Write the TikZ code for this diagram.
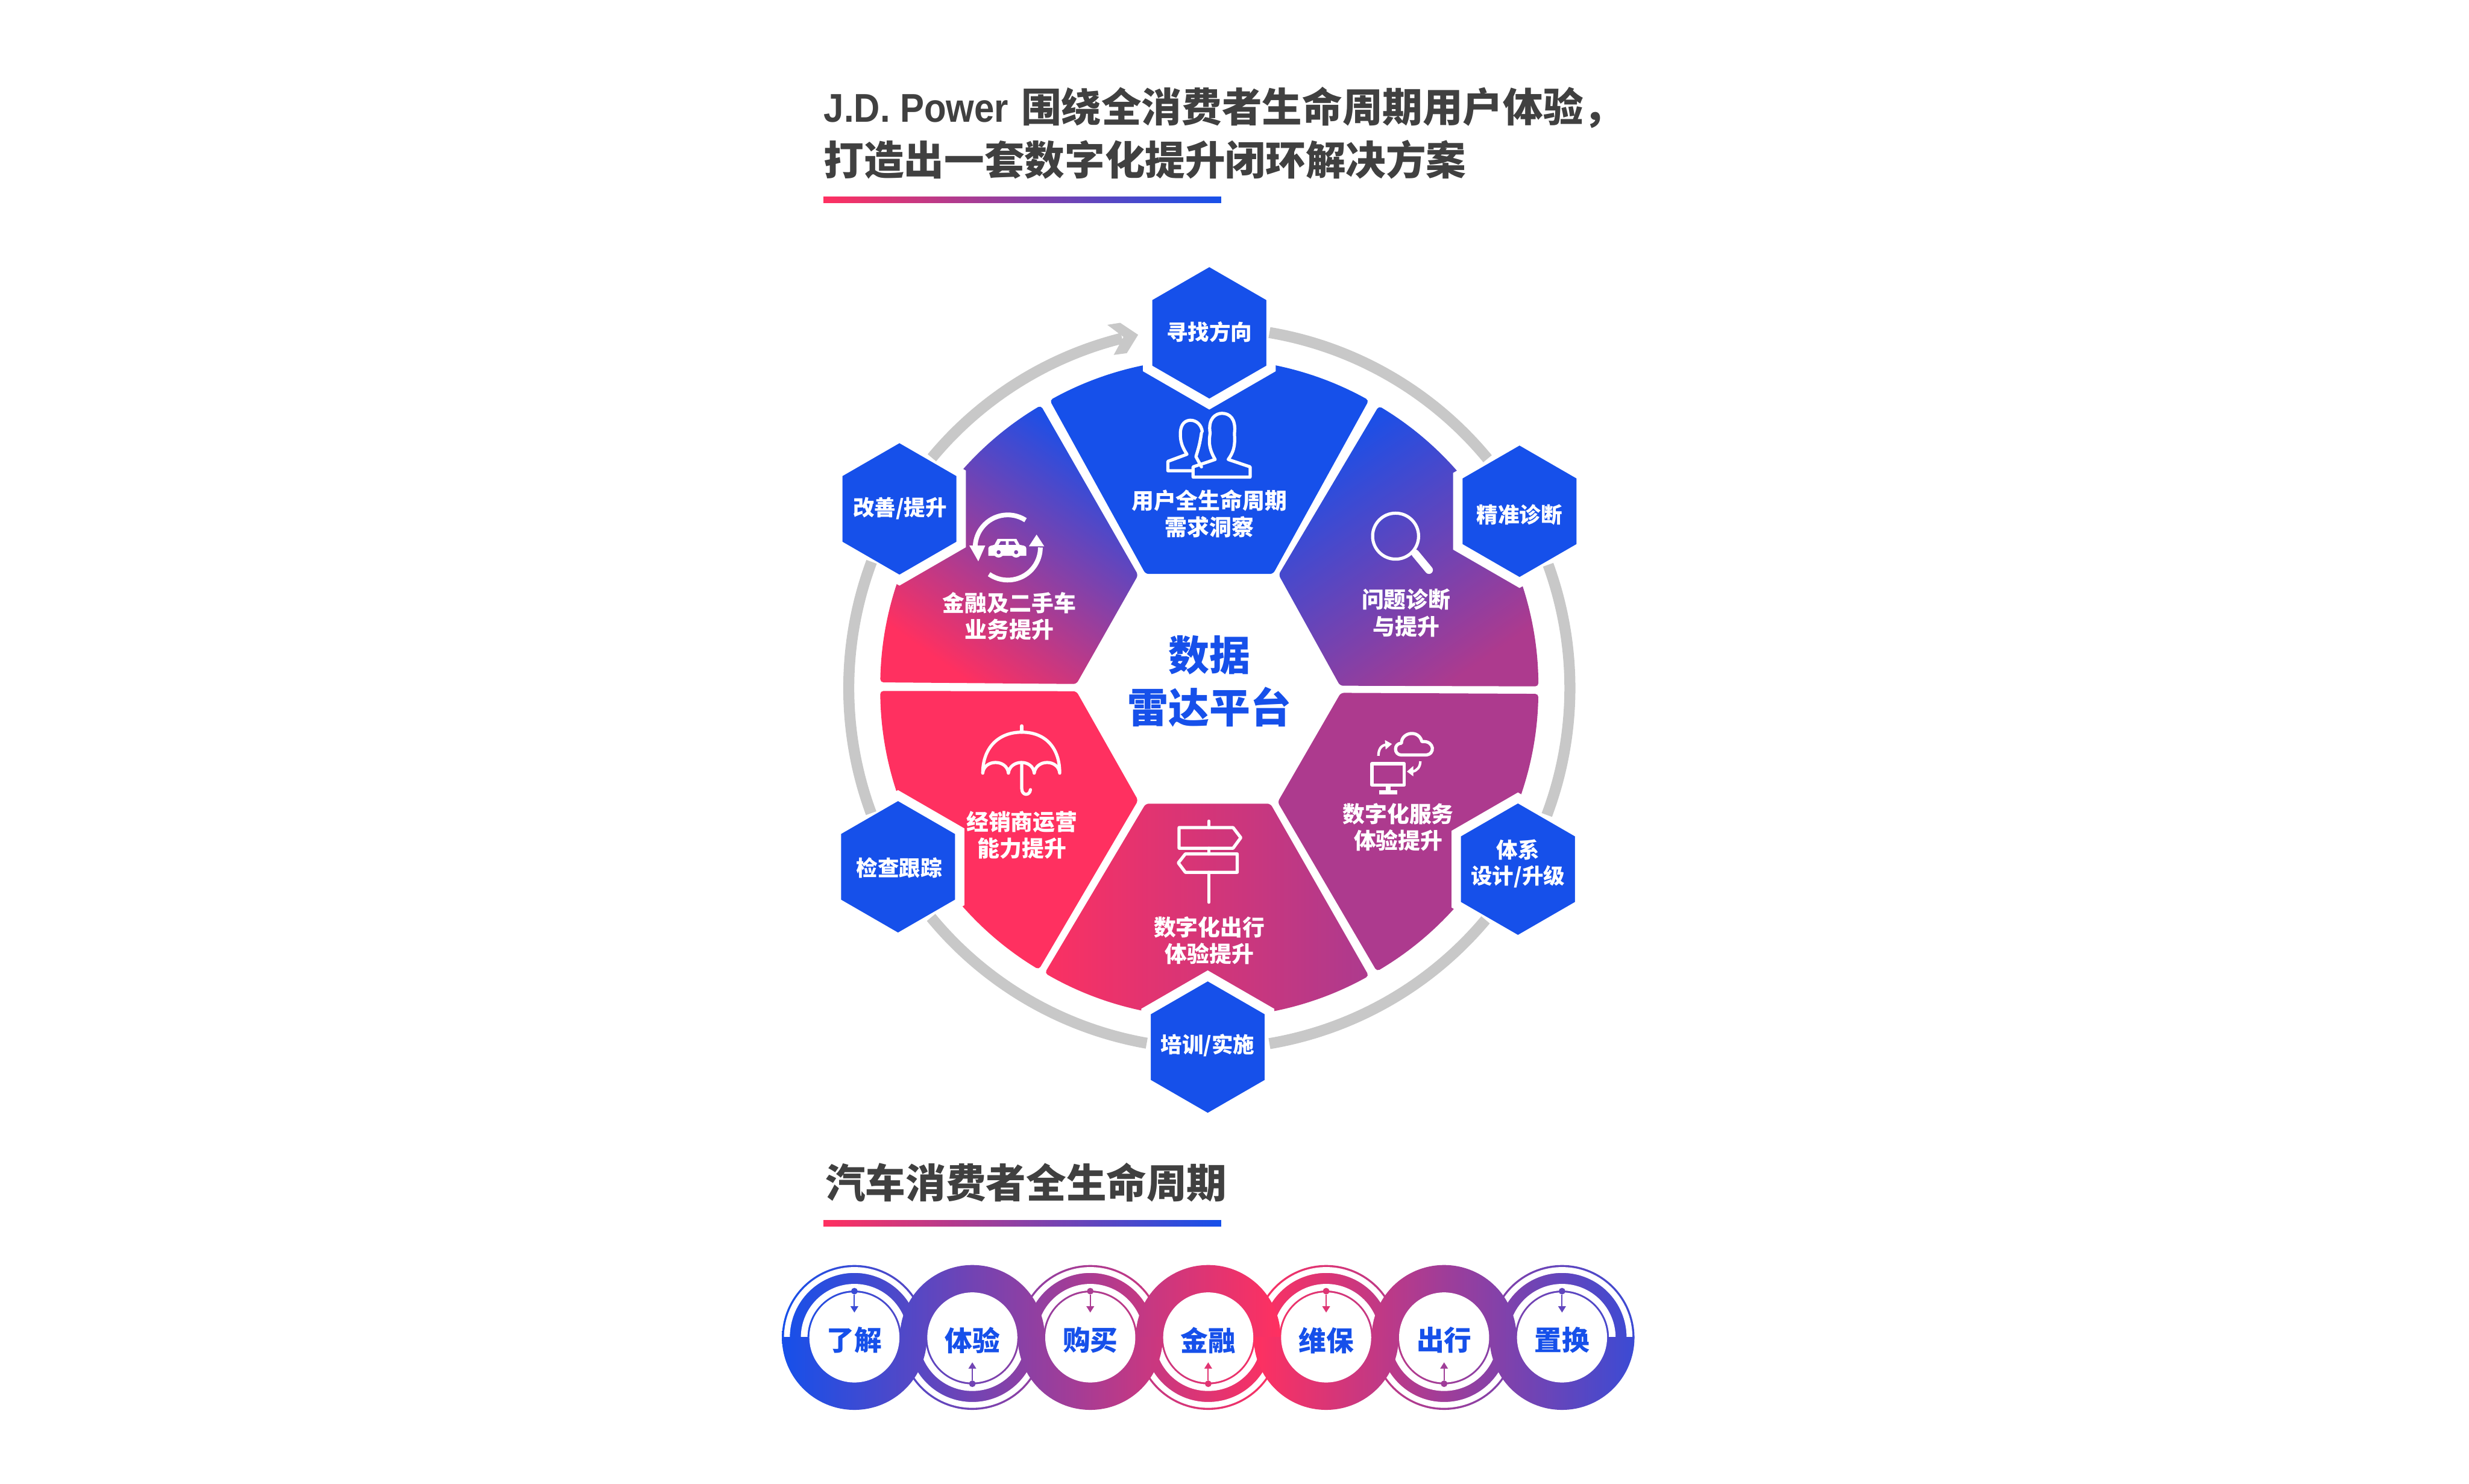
\documentclass[tikz,border=0pt]{standalone}
\usepackage{fontspec}
\setmainfont{Noto Sans CJK SC}
\newfontfamily\latinhead[FakeStretch=0.9]{Liberation Sans}
\usetikzlibrary{shapes.geometric,arrows.meta}

\definecolor{blueb}{HTML}{1650EA}
\definecolor{pinkb}{HTML}{FF3060}
\definecolor{purpleb}{HTML}{AD3A8E}
\definecolor{grayb}{HTML}{C8C8C8}
\definecolor{darkb}{HTML}{404040}

\tikzstyle{hextext}=[text=white, align=center, font=\fontsize{13.6}{16.6}\selectfont\bfseries]
\tikzstyle{hexa}=[draw=white, fill=blueb, regular polygon, regular polygon sides=6, regular polygon rotate=30, minimum size=90.5pt, inner sep=0pt, line width=6pt]
\tikzstyle{wedgetext}=[text=white, align=center, font=\fontsize{14.1}{17}\selectfont\bfseries]
\tikzstyle{headtext}=[text=darkb, anchor=west, align=left, inner sep=0pt, font=\fontsize{25.5}{33.8}\selectfont\bfseries]
\tikzstyle{centertext}=[text=blueb, align=center, font=\fontsize{26}{33}\selectfont\bfseries]
\tikzstyle{ringtext}=[text=blueb, font=\fontsize{17.5}{20}\selectfont\bfseries]
\tikzstyle{ringdot}=[circle, minimum size=4.2pt, inner sep=0pt]
\tikzstyle{ringarrow}=[line width=0.8pt, -{Triangle[length=4pt,width=4.8pt]}]
\tikzstyle{grayarc}=[draw=grayb, line width=7pt]
\tikzstyle{icon}=[draw=white, line width=2pt, line join=round, line cap=round]

% one ring of the bottom chain
\newcommand{\ringdisc}[3]{\shade[left color=pinkb!#2!blueb, right color=pinkb!#3!blueb] (#1,849.4) circle (46pt);}
\newcommand{\ringgap}[1]{
    \fill[white, even odd rule] (#1,849.4) circle (44.7pt) circle (41pt);
    \fill[white, even odd rule] (#1,849.4) circle (34pt) circle (29.8pt);
}

\begin{document}
\begin{tikzpicture}[x=1pt, y=-1pt]
    \useasboundingbox (0,0) rectangle (1568,942.4);

    % titles
    \node[headtext] (title) at (523,84.6) {{\latinhead J.D. Power}\hspace{8pt}围绕全消费者生命周期用户体验，\\打造出一套数字化提升闭环解决方案};
    \shade[left color=pinkb, right color=blueb] (523,124.8) rectangle (775.5,129);
    \node[headtext] (chainTitle) at (524,751) {汽车消费者全生命周期};
    \shade[left color=pinkb, right color=blueb] (523,775) rectangle (775.5,779);

    % wheel
    \begin{scope}[shift={(768,437)}]
        \fill[blueb, rounded corners=2pt] (-40.5,-72.5) -- (241:209) arc[start angle=241, end angle=299, radius=209] -- (40.5,-72.5) -- cycle;
        \shade[left color=blueb, right color=purpleb, shading angle=35, rounded corners=2pt] (44,-72) -- (301:209) arc[start angle=301, end angle=359.7, radius=209] -- (83,-1.5) -- cycle;
        \fill[purpleb, rounded corners=2pt] (83.5,3) -- (1:209) arc[start angle=1, end angle=59.4, radius=209] -- (43.4,72.4) -- cycle;
        \shade[left color=pinkb!95!purpleb, right color=purpleb, rounded corners=2pt] (-40.4,73.4) -- (120:209) arc[start angle=120, end angle=61, radius=209] -- (38.8,73.4) -- cycle;
        \fill[pinkb, rounded corners=2pt] (-84.4,2) -- (-45.2,71.3) -- (121.2:209) arc[start angle=121.2, end angle=179.5, radius=209] -- cycle;
        \shade[left color=pinkb, right color=blueb, shading angle=145, rounded corners=2pt] (-84.4,-2.6) -- (-45.2,-71.8) -- (239.2:209) arc[start angle=239.2, end angle=181, radius=209] -- cycle;
    \end{scope}

    % hexagons
    \node[hexa] (hexTop) at (768,211.4) {};
    \node[hexa] (hexRight) at (965,324.7) {};
    \node[hexa] (hexLowRight) at (964,552) {};
    \node[hexa] (hexBottom) at (767,665) {};
    \node[hexa] (hexLowLeft) at (570.3,550.5) {};
    \node[hexa] (hexLeft) at (571.2,323.2) {};
    \node[hextext] (hexTopText) at (768,211) {寻找方向};
    \node[hextext] (hexRightText) at (965,327) {精准诊断};
    \node[hextext] (hexLowRightText) at (964,548.5) {体系\\设计/升级};
    \node[hextext] (hexBottomText) at (767,664) {培训/实施};
    \node[hextext] (hexLowLeftText) at (571,551) {检查跟踪};
    \node[hextext] (hexLeftText) at (571.5,323) {改善/提升};

    % gray ring
    \begin{scope}[shift={(768,437)}]
        \foreach \a/\b in {279.6/320.5, -20/20.6, 40/80.4, 100/140.5, 159.7/200.5, 219.7/256}
            \draw[grayarc] (\a:229) arc[start angle=\a, end angle=\b, radius=229];
    \end{scope}
    \fill[grayb] (711.4,205) -- (722.8,212.6) -- (715.6,224.3) -- (707.3,225.4) -- (713.5,214) -- (703.2,206.3) -- cycle;

    % icon: users
    \draw[icon] (757.7,303) -- (757.7,296.5) -- (771.7,291.8) .. controls (767,284) and (768,279) .. (768.5,275) .. controls (767,266) and (772,262.5) .. (776,262.5) .. controls (781,262.5) and (785,266) .. (784,275) .. controls (784,280) and (785,285) .. (780,291.8) -- (793.9,296.5) -- (793.9,303) -- cycle;
    \draw[icon] (757.7,299) -- (741.7,299) -- (741.7,293) -- (753.8,288.5) .. controls (750,283) and (749.6,279) .. (749.6,275.5) .. controls (749.6,269) and (753,266.9) .. (756,266.9) .. controls (760,266.9) and (763,270) .. (763.5,274);
    \draw[icon] (763,275) .. controls (762,282) and (761,285) .. (759.5,290) -- (763,296.5);

    % icon: magnifier
    \draw[icon] (886.3,340.5) circle (14.6pt);
    \draw[icon, line width=5pt] (898.8,351.5) -- (907.5,362);

    % icon: car in a loop
    \draw[icon, line width=3pt, line cap=butt] (640,347.7) ++(303:20.7) arc[start angle=303, end angle=180, radius=20.7];
    \fill[white] (615.6,346.5) -- (625.7,346.5) -- (621.3,356.5) -- cycle;
    \draw[icon, line width=3pt, line cap=butt] (640,347.7) ++(125:20.7) arc[start angle=125, end angle=0, radius=20.7];
    \fill[white] (653.4,347) -- (663.2,347) -- (658.3,339.5) -- cycle;
    \fill[white] (627.7,353) -- (627.7,348) .. controls (628,346.5) and (630,346.5) .. (631.5,346) -- (633.5,342.3) -- (645.5,342.3) -- (647.5,346) .. controls (650,346.5) and (651.8,346.5) .. (651.8,348.5) -- (651.8,353) -- cycle;
    \fill[purpleb!70!blueb] (634.2,346) -- (635.5,343.8) -- (638.8,343.8) -- (638.8,346) -- cycle (640.6,346) -- (640.6,343.8) -- (644,343.8) -- (645.3,346) -- cycle;
    \foreach \wx in {634.2,645.3}{
        \fill[white] (\wx,350.7) circle (3.4pt);
        \fill[purpleb!70!blueb] (\wx,350.7) circle (1.3pt);
    }

    % icon: umbrella
    \draw[icon] (624.1,491) .. controls (624.1,475) and (634,465) .. (648.9,465) .. controls (664,465) and (673,475) .. (673,491) .. controls (672,482) and (658,482) .. (656.8,491) .. controls (656,482) and (641.5,482) .. (640.4,491) .. controls (639.5,482) and (625,482) .. (624.1,491);
    \draw[icon] (648.9,461) -- (648.9,465);
    \draw[icon] (648.9,485.5) -- (648.9,501) .. controls (649,505.5) and (654,505.5) .. (654.4,501.5);

    % icon: signpost
    \draw[icon] (767.7,521.5) -- (767.7,525.6) (767.7,538.7) -- (767.7,542.3) (767.7,554) -- (767.7,573);
    \draw[icon, line cap=butt] (748.8,525.6) -- (783.1,525.6) -- (788,532) -- (783.1,538.7) -- (748.8,538.7) -- cycle;
    \draw[icon, line cap=butt] (785.7,542.3) -- (752.8,542.3) -- (748.3,548) -- (752.8,554) -- (785.7,554) -- cycle;

    % icon: computer and cloud
    \draw[icon] (871.3,485) rectangle (891.8,498.5);
    \draw[icon, line width=3pt, line cap=butt] (881.5,499) -- (881.5,503) (875.8,503.2) -- (887.3,503.2);
    \draw[icon] (890,479.5) .. controls (885,479.5) and (885,472) .. (890,472) .. controls (890,465) and (901,463) .. (903,471) .. controls (911,470) and (912,479.5) .. (905,479.5) -- cycle;
    \draw[icon, line width=1.6pt, line cap=butt] (875.4,480) .. controls (875.4,476) and (877,473.5) .. (880,473);
    \fill[white] (879.5,470) -- (884,472.5) -- (880,476) -- cycle;
    \draw[icon, line width=1.6pt, line cap=butt] (902,483.5) .. controls (902,487) and (900,489.5) .. (897,490);
    \fill[white] (897.5,486.5) -- (893.5,490) -- (897.5,493) -- cycle;

    % texts of the wheel
    \node[wedgetext] (wedgeTop) at (768,326.3) {用户全生命周期\\需求洞察};
    \node[wedgetext] (wedgeRight) at (893,389.3) {问题诊断\\与提升};
    \node[wedgetext] (wedgeLowRight) at (888,525.3) {数字化服务\\体验提升};
    \node[wedgetext] (wedgeBottom) at (768,597.3) {数字化出行\\体验提升};
    \node[wedgetext] (wedgeLowLeft) at (649,530.3) {经销商运营\\能力提升};
    \node[wedgetext] (wedgeLeft) at (641,391.3) {金融及二手车\\业务提升};
    \node[centertext] (platform) at (768,432.7) {数据\\雷达平台};

    % chain of rings
    \begin{scope}
        \clip (480,790) rectangle (1060,849.4);
        \foreach \rx/\ca/\cb in {542.6/0/30, 692.4/49/79, 842.2/100/69, 992/49/16}{
            \ringdisc{\rx}{\ca}{\cb}
            \ringgap{\rx}
        }
        \foreach \rx/\ca/\cb in {617.5/24/55, 767.3/73/100, 917.1/75/43}{
            \ringdisc{\rx}{\ca}{\cb}
        }
    \end{scope}
    \begin{scope}
        \clip (480,849.4) rectangle (1060,910);
        \foreach \rx/\ca/\cb in {617.5/24/55, 767.3/73/100, 917.1/75/43}{
            \ringdisc{\rx}{\ca}{\cb}
            \ringgap{\rx}
        }
        \foreach \rx/\ca/\cb in {542.6/0/30, 692.4/49/79, 842.2/100/69, 992/49/16}{
            \ringdisc{\rx}{\ca}{\cb}
        }
    \end{scope}

    \foreach \i/\rx/\ct/\tx in {1/542.6/15/了解, 3/692.4/64/购买, 5/842.2/86/维保, 7/992/32/置换}{
        \fill[white] (\rx,849.4) circle (28.6pt);
        \node[ringdot, fill=pinkb!\ct!blueb] (dot\i) at (\rx,820) {};
        \coordinate (tip\i) at (\rx,833.6);
        \draw[ringarrow, pinkb!\ct!blueb] (dot\i) -- (tip\i);
        \node[ringtext] (ring\i) at (\rx,851.2) {\tx};
    }
    \foreach \i/\rx/\ct/\tx in {2/617.5/39/体验, 4/767.3/87/金融, 6/917.1/59/出行}{
        \fill[white] (\rx,849.4) circle (28.6pt);
        \node[ringdot, fill=pinkb!\ct!blueb] (dot\i) at (\rx,878.8) {};
        \coordinate (tip\i) at (\rx,865.2);
        \draw[ringarrow, pinkb!\ct!blueb] (dot\i) -- (tip\i);
        \node[ringtext] (ring\i) at (\rx,851.2) {\tx};
    }
\end{tikzpicture}
\end{document}
